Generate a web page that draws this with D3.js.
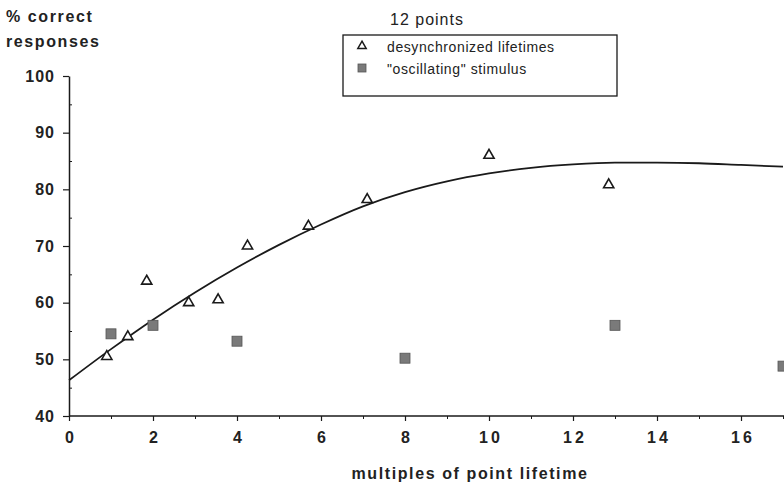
<!DOCTYPE html>
<html>
<head>
<meta charset="utf-8">
<script src="https://cdn.jsdelivr.net/npm/d3@7"></script>
<style>
  body { margin: 0; background: #fff; }
  svg text { font-family: "Liberation Sans", Arial, sans-serif; fill: #222; }
</style>
</head>
<body>
<svg id="chart"></svg>
<script>
// desynchronized lifetimes (triangles)
var desyncX = [0.9, 1.4, 1.85, 2.85, 3.55, 4.25, 5.7, 7.1, 10, 12.85];
var desyncY = [50.5, 54, 63.8, 60, 60.5, 70, 73.5, 78.2, 86, 80.8];

// "oscillating" stimulus (squares)
var oscX = [1, 2, 4, 8, 13, 17];
var oscY = [54.5, 56, 53.2, 50.2, 56, 48.8];

// fitted curve
var fitX = [0, 1, 2, 3, 4, 5, 6, 7, 8, 9, 10, 11, 12, 13, 14, 15, 16, 17];
var fitY = [46.3, 51.8, 57, 61.8, 66.2, 70.2, 73.8, 77, 79.5, 81.4, 82.8, 83.8, 84.4, 84.7, 84.7, 84.6, 84.3, 84.0];

var xTicks = [0, 2, 4, 6, 8, 10, 12, 14, 16];
var yTicks = [40, 50, 60, 70, 80, 90, 100];

var width = 784, height = 486;
var svg = d3.select("#chart").attr("width", width).attr("height", height);

var x = d3.scaleLinear().domain([0, 17]).range([69, 783]);
var y = d3.scaleLinear().domain([40, 100]).range([416, 76]);

var ink = "#1a1a1a";

// minor ticks: below the x axis, inside the y axis
svg.append("g")
    .attr("transform", "translate(0,416)")
    .call(d3.axisBottom(x).tickValues(d3.range(1, 18, 2)).tickSize(3).tickFormat(""))
    .call(function(g) { g.select(".domain").remove(); g.selectAll("line").attr("stroke", ink); });

svg.append("g")
    .attr("transform", "translate(69,0)")
    .call(d3.axisRight(y).tickValues(d3.range(45, 100, 10)).tickSize(3).tickFormat(""))
    .call(function(g) { g.select(".domain").remove(); g.selectAll("line").attr("stroke", ink); });

// x axis
var xa = svg.append("g")
    .attr("transform", "translate(0,416)")
    .call(d3.axisBottom(x).tickValues(xTicks).tickSize(5).tickPadding(11).tickSizeOuter(0));
xa.select(".domain").attr("stroke", ink).attr("stroke-width", 1.5).attr("d", "M69,0H784");
xa.selectAll("line").attr("stroke", ink).attr("stroke-width", 1.2);
xa.selectAll("text")
    .style("font-size", "16px").style("font-weight", "bold").attr("fill", ink)
    .style("letter-spacing", "3px").attr("dx", "1.5px");

// y axis
var ya = svg.append("g")
    .attr("transform", "translate(69,0)")
    .call(d3.axisLeft(y).tickValues(yTicks).tickSize(6).tickPadding(8).tickSizeOuter(0));
ya.select(".domain").attr("stroke", ink).attr("stroke-width", 1.5);
ya.selectAll("line").attr("stroke", ink).attr("stroke-width", 1.2);
ya.selectAll("text")
    .style("font-size", "16px").style("font-weight", "bold").attr("fill", ink)
    .style("letter-spacing", "1px");

// axis titles
svg.append("text").attr("x", 6).attr("y", 22)
    .style("font-size", "16px").style("font-weight", "bold").style("letter-spacing", "1.6px")
    .text("% correct");
svg.append("text").attr("x", 6).attr("y", 47)
    .style("font-size", "16px").style("font-weight", "bold").style("letter-spacing", "1.6px")
    .text("responses");
svg.append("text").attr("x", 470).attr("y", 479).attr("text-anchor", "middle")
    .style("font-size", "16px").style("font-weight", "bold").style("letter-spacing", "1.6px")
    .text("multiples of point lifetime");

// fitted curve
var line = d3.line()
    .x(function(d) { return x(d[0]); })
    .y(function(d) { return y(d[1]); })
    .curve(d3.curveMonotoneX);

svg.append("path")
    .datum(d3.zip(fitX, fitY))
    .attr("fill", "none")
    .attr("stroke", ink)
    .attr("stroke-width", 1.8)
    .attr("d", line);

// markers
var tri = d3.symbol().type(d3.symbolTriangle).size(45);

svg.append("g").selectAll("path")
    .data(d3.zip(desyncX, desyncY))
    .enter().append("path")
    .attr("transform", function(d) { return "translate(" + x(d[0]) + "," + y(d[1]) + ")"; })
    .attr("d", tri)
    .attr("fill", "#fff")
    .attr("stroke", ink)
    .attr("stroke-width", 1.6);

svg.append("g").selectAll("rect")
    .data(d3.zip(oscX, oscY))
    .enter().append("rect")
    .attr("x", function(d) { return x(d[0]) - 5; })
    .attr("y", function(d) { return y(d[1]) - 5; })
    .attr("width", 10).attr("height", 10)
    .attr("fill", "#7a7a7a")
    .attr("stroke", "#555").attr("stroke-width", 0.8);

// legend
svg.append("text").attr("x", 390).attr("y", 25)
    .style("font-size", "16px").style("letter-spacing", "1px").text("12 points");

svg.append("rect")
    .attr("x", 343).attr("y", 35).attr("width", 274).attr("height", 61)
    .attr("fill", "none").attr("stroke", ink).attr("stroke-width", 1.3);

svg.append("path")
    .attr("transform", "translate(362,46)")
    .attr("d", d3.symbol().type(d3.symbolTriangle).size(30))
    .attr("fill", "#fff").attr("stroke", ink).attr("stroke-width", 1.5);
svg.append("text").attr("x", 387).attr("y", 52)
    .style("font-size", "14px").style("letter-spacing", "0.6px").text("desynchronized lifetimes");

svg.append("rect")
    .attr("x", 358).attr("y", 64).attr("width", 8).attr("height", 8)
    .attr("fill", "#7a7a7a").attr("stroke", "#555").attr("stroke-width", 0.8);
svg.append("text").attr("x", 387).attr("y", 74)
    .style("font-size", "14px").style("letter-spacing", "0.6px").text("\"oscillating\" stimulus");
</script>
</body>
</html>
